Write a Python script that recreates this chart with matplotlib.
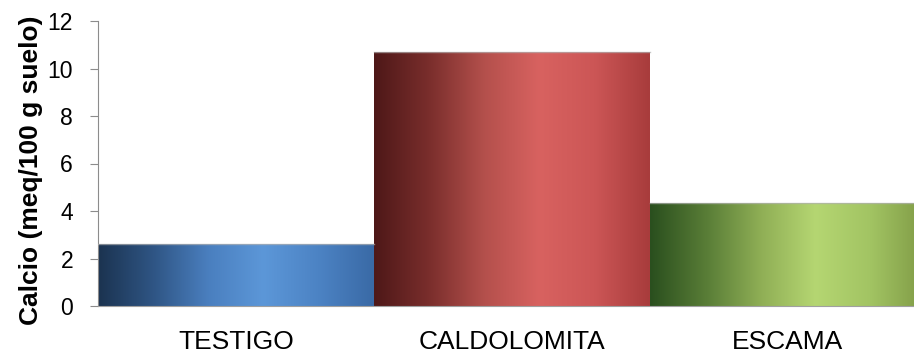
import numpy as np
import matplotlib
matplotlib.use('Agg')
import matplotlib.pyplot as plt
from matplotlib.colors import LinearSegmentedColormap

# Datos
categorias = ['TESTIGO', 'CALDOLOMITA', 'ESCAMA']
calcio = [2.6, 10.7, 4.35]
yticks = [0, 2, 4, 6, 8, 10, 12]

# Degradados horizontales de cada barra (borde oscuro -> brillo -> borde)
gradientes = [
    ['#1b3350', '#2f5584', '#4a7fbf', '#5c97d8', '#4c83c4', '#3a6aa6'],
    ['#4e1818', '#7a2e2c', '#b4504c', '#d86260', '#cc5656', '#a83c3c'],
    ['#2a4f1e', '#587c36', '#8fae55', '#b5d672', '#a2c463', '#7f9a45'],
]

plt.rcParams['font.family'] = ['Liberation Sans', 'DejaVu Sans']

fig = plt.figure(figsize=(9.14, 3.52), dpi=100)
ax = fig.add_axes([98 / 914, 46 / 352, 828 / 914, 285 / 352])

x = np.arange(len(categorias))
barras = ax.bar(x, calcio, width=1.0, color='none', edgecolor='none', zorder=2)

grad = np.linspace(0, 1, 256).reshape(1, -1)
for b, cols in zip(barras, gradientes):
    cmap = LinearSegmentedColormap.from_list('g', cols)
    x0, y0 = b.get_x(), b.get_y()
    w, h = b.get_width(), b.get_height()
    im = ax.imshow(grad, cmap=cmap, aspect='auto', extent=[x0, x0 + w, y0, y0 + h],
                   interpolation='bicubic', zorder=2)
    im.set_clip_path(b)
    # borde superior
    ax.plot([x0, x0 + w], [y0 + h, y0 + h], color='#b0b0b0', lw=1.0, alpha=0.7, zorder=3)

ax.set_xlim(-0.5, 2.5)
ax.set_ylim(0, 12)
ax.set_yticks(yticks)
ax.set_xticks(x)
ax.set_xticklabels(categorias, fontsize=19)
ax.tick_params(axis='y', labelsize=16.5, length=6, color='#8c8c8c', direction='out', pad=12)
ax.tick_params(axis='x', length=0, pad=17)

for s in ['top', 'right']:
    ax.spines[s].set_visible(False)
ax.spines['left'].set_color('#8c8c8c')
ax.spines['bottom'].set_color('#a0a0a0')

ax.set_ylabel('Calcio (meq/100 g suelo)', fontsize=19, fontweight='bold')
ax.yaxis.set_label_coords(-0.066, 0.475)

fig.savefig('out.png', dpi=100)
